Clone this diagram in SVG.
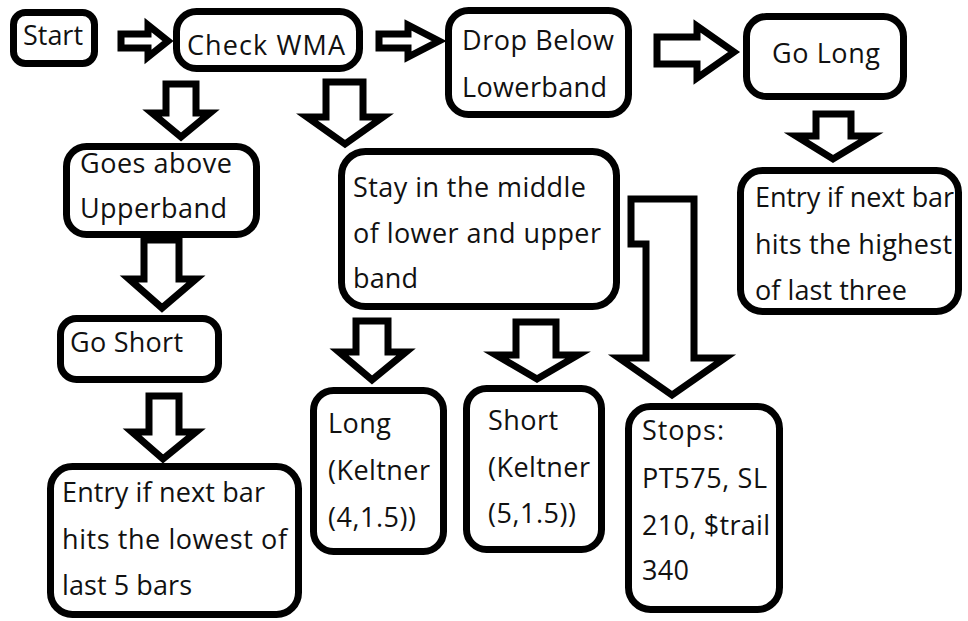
<svg xmlns="http://www.w3.org/2000/svg" width="968" height="621" viewBox="0 0 968 621">
<style>
.box{fill:#fff;stroke:#000;stroke-width:7}
.arr{fill:#fff;stroke:#000;stroke-width:7;stroke-linejoin:miter;stroke-miterlimit:4}
.t{font-family:"Open Sans","Liberation Sans",sans-serif;font-size:27px;fill:#111}
</style>
<rect width="968" height="621" fill="#fff"/>
<g id="connectors">
<polygon class="arr" points="121,34 148,34 148,25 168,41 148,57 148,48 121,48"/>
<polygon class="arr" points="379,34 408,34 408,25 439,41 408,57 408,48 379,48"/>
<polygon class="arr" points="657,37 697,37 697,26 734,52 697,78 697,64 657,64"/>
<polygon class="arr" points="166,84 196,84 196,113 210,113 181,137 152,113 166,113"/>
<polygon class="arr" points="326,82 363,82 363,117 383,117 345,144 307,117 326,117"/>
<polygon class="arr" points="144,240 179,240 179,279 196,279 162,308 129,279 144,279"/>
<polygon class="arr" points="149,396 179,396 179,432 196,432 163,459 132,432 149,432"/>
<polygon class="arr" points="816,114 851,114 851,136 871,136 833,159 796,136 816,136"/>
<polygon class="arr" points="356,321 388,321 388,352 406,352 372,380 339,352 356,352"/>
<polygon class="arr" points="516,322 556,322 556,355 578,355 537,379 496,355 516,355"/>
<polygon class="arr" points="631,199 694,199 694,358 725,358 672,395 619,358 646,358 646,244 631,244"/>
</g>
<g id="start"><rect class="box" x="13.5" y="12.5" width="81" height="51" rx="12"/><text class="t" x="23" y="45" textLength="60" lengthAdjust="spacing">Start</text></g>
<g id="check-wma"><rect class="box" x="176.5" y="11.5" width="183" height="57" rx="20"/><text class="t" x="187" y="55" textLength="158" lengthAdjust="spacing">Check WMA</text></g>
<g id="drop-below"><rect class="box" x="448.5" y="10.5" width="180" height="104" rx="20"/><text class="t" x="462" y="50" textLength="152" lengthAdjust="spacing">Drop Below</text><text class="t" x="462" y="97" textLength="145" lengthAdjust="spacing">Lowerband</text></g>
<g id="go-long"><rect class="box" x="746.5" y="16.5" width="157" height="80" rx="20"/><text class="t" x="772" y="63" textLength="108" lengthAdjust="spacing">Go Long</text></g>
<g id="entry-long"><rect class="box" x="740.5" y="170.5" width="218" height="141" rx="22"/><text class="t" x="755" y="207" textLength="199" lengthAdjust="spacing">Entry if next bar</text><text class="t" x="755" y="254" textLength="197" lengthAdjust="spacing">hits the highest</text><text class="t" x="755" y="300" textLength="152" lengthAdjust="spacing">of last three</text></g>
<g id="goes-above"><rect class="box" x="66.5" y="146.5" width="190" height="88" rx="20"/><text class="t" x="80" y="173" textLength="152" lengthAdjust="spacing">Goes above</text><text class="t" x="80" y="218" textLength="147" lengthAdjust="spacing">Upperband</text></g>
<g id="go-short"><rect class="box" x="60.5" y="318.5" width="158" height="61" rx="16"/><text class="t" x="70" y="352" textLength="113" lengthAdjust="spacing">Go Short</text></g>
<g id="entry-short"><rect class="box" x="50.5" y="466.5" width="248" height="148" rx="22"/><text class="t" x="62" y="502" textLength="203" lengthAdjust="spacing">Entry if next bar</text><text class="t" x="62" y="549" textLength="225" lengthAdjust="spacing">hits the lowest of</text><text class="t" x="62" y="595" textLength="130" lengthAdjust="spacing">last 5 bars</text></g>
<g id="stay-middle"><rect class="box" x="341.5" y="151.5" width="275" height="155" rx="24"/><text class="t" x="353" y="197" textLength="233" lengthAdjust="spacing">Stay in the middle</text><text class="t" x="353" y="243" textLength="248" lengthAdjust="spacing">of lower and upper</text><text class="t" x="353" y="288" textLength="65" lengthAdjust="spacing">band</text></g>
<g id="long-keltner"><rect class="box" x="313.5" y="390.5" width="130" height="161" rx="20"/><text class="t" x="328" y="433" textLength="63" lengthAdjust="spacing">Long</text><text class="t" x="328" y="480" textLength="102" lengthAdjust="spacing">(Keltner</text><text class="t" x="328" y="527" textLength="88" lengthAdjust="spacing">(4,1.5))</text></g>
<g id="short-keltner"><rect class="box" x="466.5" y="388.5" width="135" height="161" rx="20"/><text class="t" x="488" y="430" textLength="70" lengthAdjust="spacing">Short</text><text class="t" x="488" y="477" textLength="102" lengthAdjust="spacing">(Keltner</text><text class="t" x="488" y="523" textLength="88" lengthAdjust="spacing">(5,1.5))</text></g>
<g id="stops"><rect class="box" x="628.5" y="406.5" width="151" height="203" rx="22"/><text class="t" x="642" y="440" textLength="82" lengthAdjust="spacing">Stops:</text><text class="t" x="642" y="488" textLength="125" lengthAdjust="spacing">PT575, SL</text><text class="t" x="642" y="535" textLength="128" lengthAdjust="spacing">210, $trail</text><text class="t" x="642" y="580" textLength="47" lengthAdjust="spacing">340</text></g>
</svg>
